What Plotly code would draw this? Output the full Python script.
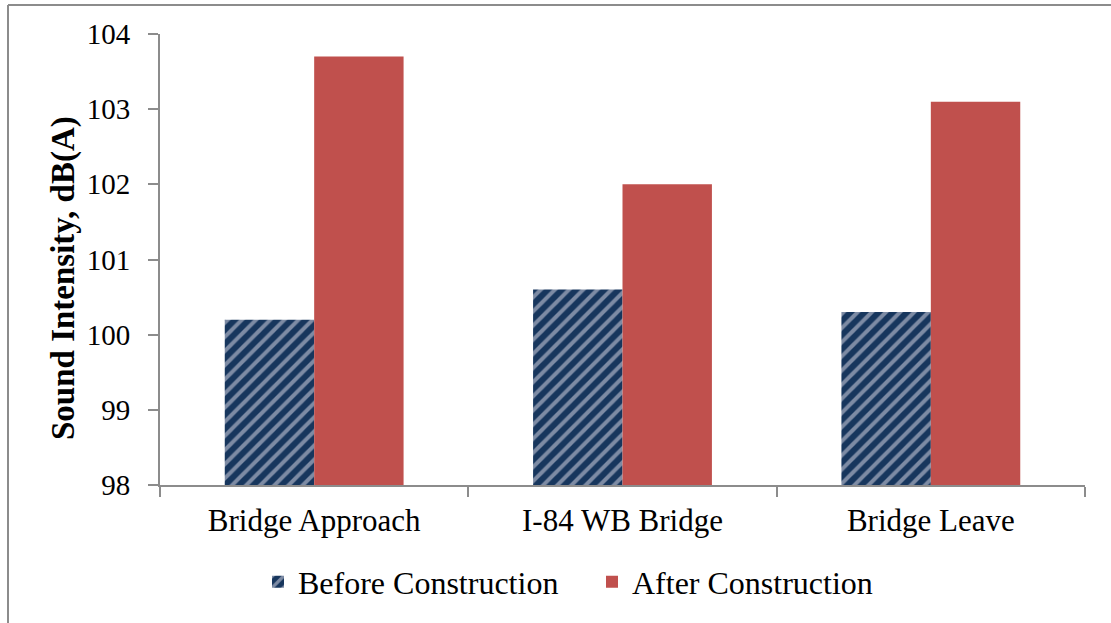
import plotly.graph_objects as go

categories = ["Bridge Approach", "I-84 WB Bridge", "Bridge Leave"]
before = [100.2, 100.6, 100.3]
after = [103.7, 102.0, 103.1]
series_names = ["Before Construction", "After Construction"]
y_title = "<b>Sound Intensity, dB(A)</b>"

W, H = 1111, 623
L, R, T, B = 160, 26, 34, 138
pw, ph = W - L - R, H - T - B

def px(x):
    return (x - L) / pw

def py(y):
    return (H - B - y) / ph

FONT = "Liberation Serif"

fig = go.Figure()
fig.add_trace(go.Bar(
    x=categories, y=before, name=series_names[0],
    marker=dict(color="#17365D", line=dict(width=0),
                pattern=dict(shape="/", fgcolor="#E4DFEC", bgcolor="#17365D",
                             size=10, solidity=0.4, fillmode="overlay")),
))
fig.add_trace(go.Bar(
    x=categories, y=after, name=series_names[1],
    marker=dict(color="#C0504D", line=dict(width=0)),
))

fig.update_layout(
    width=W, height=H,
    margin=dict(l=L, r=R, t=T, b=B, autoexpand=False),
    paper_bgcolor="white", plot_bgcolor="white",
    barmode="group", bargap=0.42, bargroupgap=0,
    font=dict(family=FONT, color="black", size=30),
    showlegend=True,
    legend=dict(orientation="h", x=px(258), xanchor="left", y=py(582), yanchor="middle",
                font=dict(family=FONT, size=32), itemsizing="constant",
                entrywidth=289, entrywidthmode="pixels", tracegroupgap=0),
    xaxis=dict(showline=True, linecolor="#8C8C8C", linewidth=2, ticks="outside",
               tickson="boundaries", ticklen=10, tickcolor="#8C8C8C", tickwidth=2,
               tickfont=dict(family=FONT, size=31), showgrid=False, automargin=False,
               ticklabelstandoff=7),
    yaxis=dict(range=[98, 104], dtick=1, showline=True, linecolor="#8C8C8C", linewidth=2,
               ticks="outside", ticklen=10, tickcolor="#8C8C8C", tickwidth=2,
               tickfont=dict(family=FONT, size=29), showgrid=False, zeroline=False,
               automargin=False, ticklabelstandoff=12),
    annotations=[
        dict(text=y_title, textangle=-90, xref="paper", yref="paper", x=px(63), y=py(278),
             xanchor="center", yanchor="middle", showarrow=False,
             font=dict(family=FONT, size=33, color="black")),
    ],
    shapes=[
        dict(type="line", xref="paper", yref="paper", x0=px(8), x1=px(W + 5), y0=py(5), y1=py(5),
             line=dict(color="#8C8C8C", width=2)),
        dict(type="line", xref="paper", yref="paper", x0=px(8), x1=px(8), y0=py(5), y1=py(H + 5),
             line=dict(color="#8C8C8C", width=2)),
    ],
)

fig.write_html("out.html", config=dict(displayModeBar=False),
               post_script="document.body.style.margin='0';document.body.style.overflow='hidden';")
